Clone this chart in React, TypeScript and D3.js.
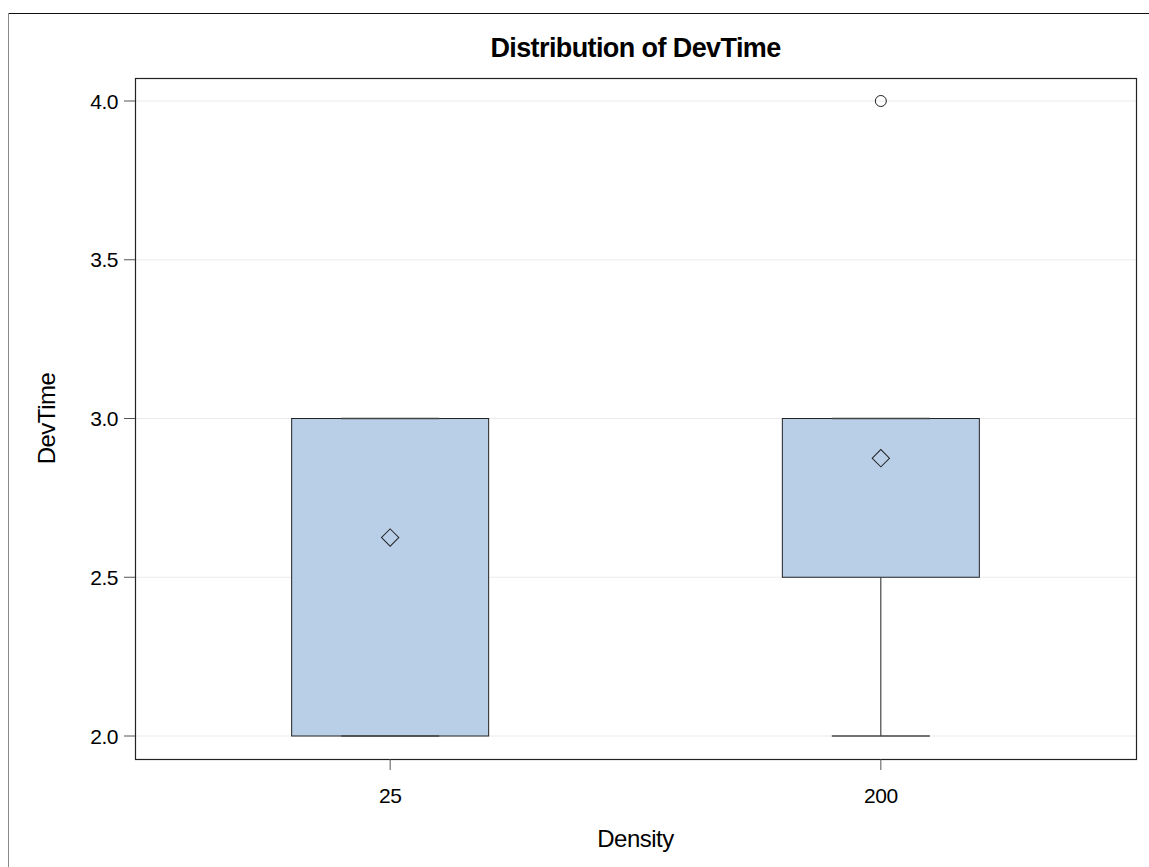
import React, { useEffect, useRef } from 'react';
import * as d3 from 'd3';

const categories = ['25', '200'];
const q1 = [2.0, 2.5];
const medians = [3.0, 3.0];
const q3 = [3.0, 3.0];
const whiskerLow = [2.0, 2.0];
const whiskerHigh = [3.0, 3.0];
const means = [2.625, 2.875];
const outliers = [[], [4.0]];
const yTicks = [2.0, 2.5, 3.0, 3.5, 4.0];

const App = () => {
  const chartRef = useRef<HTMLDivElement>(null);
  const width = 1149;
  const height = 867;

  useEffect(() => {
    d3.select(chartRef.current).select('svg').remove();

    const left = 135, right = 1136, top = 78, bottom = 759;
    const font = 'Liberation Sans, Arial, sans-serif';

    const svg = d3
      .select(chartRef.current)
      .append('svg')
      .attr('width', width)
      .attr('height', height)
      .style('position', 'absolute')
      .style('left', '0px')
      .style('top', '0px')
      .style('background', '#fff');

    // outer frame (cropped)
    svg.append('line').attr('x1', 8).attr('x2', width).attr('y1', 13.5).attr('y2', 13.5)
      .attr('stroke', '#111').attr('stroke-width', 1.2);
    svg.append('line').attr('x1', 8.5).attr('x2', 8.5).attr('y1', 13).attr('y2', height)
      .attr('stroke', '#888').attr('stroke-width', 1);

    const x = d3.scalePoint().domain(categories).range([left, right]).padding(0.52);
    const y = d3.scaleLinear().domain([2, 4]).range([736, 101]);

    // gridlines
    svg.append('g').selectAll('line').data(yTicks).enter().append('line')
      .attr('x1', left).attr('x2', right)
      .attr('y1', d => y(d)).attr('y2', d => y(d))
      .attr('stroke', '#ebebeb').attr('stroke-width', 1);

    const boxW = 197;
    const capW = 98;
    const boxes = svg.append('g').selectAll('g').data(categories).enter().append('g');

    boxes.append('line')
      .attr('x1', d => x(d)!).attr('x2', d => x(d)!)
      .attr('y1', (d, i) => y(whiskerLow[i])).attr('y2', (d, i) => y(q1[i]))
      .attr('stroke', '#222').attr('stroke-width', 1);
    boxes.append('line')
      .attr('x1', d => x(d)!).attr('x2', d => x(d)!)
      .attr('y1', (d, i) => y(whiskerHigh[i])).attr('y2', (d, i) => y(q3[i]))
      .attr('stroke', '#222').attr('stroke-width', 1);

    boxes.append('rect')
      .attr('x', d => x(d)! - boxW / 2)
      .attr('width', boxW)
      .attr('y', (d, i) => y(q3[i]))
      .attr('height', (d, i) => y(q1[i]) - y(q3[i]))
      .attr('fill', '#b9cfe7')
      .attr('stroke', '#222')
      .attr('stroke-width', 1);

    boxes.append('line')
      .attr('x1', d => x(d)! - boxW / 2).attr('x2', d => x(d)! + boxW / 2)
      .attr('y1', (d, i) => y(medians[i])).attr('y2', (d, i) => y(medians[i]))
      .attr('stroke', '#222').attr('stroke-width', 1);

    // whisker caps
    [whiskerLow, whiskerHigh].forEach(w => {
      boxes.append('line')
        .attr('x1', d => x(d)! - capW / 2).attr('x2', d => x(d)! + capW / 2)
        .attr('y1', (d, i) => y(w[i])).attr('y2', (d, i) => y(w[i]))
        .attr('stroke', '#444').attr('stroke-width', 1.5);
    });

    // mean diamonds
    const diamond = d3.symbol().type(d3.symbolSquare).size(150);
    boxes.append('path')
      .attr('d', diamond())
      .attr('transform', (d, i) => `translate(${x(d)},${y(means[i])}) rotate(45)`)
      .attr('fill', 'none')
      .attr('stroke', '#222')
      .attr('stroke-width', 1);

    // outliers
    boxes.each(function (d, i) {
      d3.select(this).selectAll('circle').data(outliers[i]).enter().append('circle')
        .attr('cx', x(d)!)
        .attr('cy', v => y(v))
        .attr('r', 5.5)
        .attr('fill', 'none')
        .attr('stroke', '#222')
        .attr('stroke-width', 1);
    });

    // plot frame
    svg.append('rect')
      .attr('x', left + 0.5).attr('y', top + 0.5)
      .attr('width', right - left).attr('height', bottom - top)
      .attr('fill', 'none').attr('stroke', '#222').attr('stroke-width', 1.2);

    // y axis ticks
    const yAxis = svg.append('g').selectAll('g').data(yTicks).enter().append('g');
    yAxis.append('line')
      .attr('x1', 124).attr('x2', left)
      .attr('y1', d => y(d)).attr('y2', d => y(d))
      .attr('stroke', '#555');
    yAxis.append('text')
      .attr('x', 118).attr('y', d => y(d))
      .attr('text-anchor', 'end').attr('dominant-baseline', 'central')
      .attr('font-family', font).attr('font-size', '21px').attr('letter-spacing', '-0.5px')
      .attr('fill', '#000')
      .text(d => d.toFixed(1));

    // x axis ticks
    const xAxis = svg.append('g').selectAll('g').data(categories).enter().append('g');
    xAxis.append('line')
      .attr('x1', d => x(d)!).attr('x2', d => x(d)!)
      .attr('y1', bottom).attr('y2', 770)
      .attr('stroke', '#555');
    xAxis.append('text')
      .attr('x', d => x(d)!).attr('y', 795)
      .attr('text-anchor', 'middle').attr('dominant-baseline', 'central')
      .attr('font-family', font).attr('font-size', '21px').attr('letter-spacing', '-0.5px')
      .attr('fill', '#000')
      .text(d => d);

    svg.append('text')
      .attr('x', (left + right) / 2).attr('y', 838)
      .attr('text-anchor', 'middle').attr('dominant-baseline', 'central')
      .attr('font-family', font).attr('font-size', '24px').attr('letter-spacing', '-0.5px')
      .text('Density');

    svg.append('text')
      .attr('transform', `translate(46,${(top + bottom) / 2}) rotate(-90)`)
      .attr('text-anchor', 'middle').attr('dominant-baseline', 'central')
      .attr('font-family', font).attr('font-size', '24px').attr('letter-spacing', '-0.5px')
      .text('DevTime');

    svg.append('text')
      .attr('x', (left + right) / 2).attr('y', 57)
      .attr('text-anchor', 'middle')
      .attr('font-family', font).attr('font-size', '27px').attr('font-weight', 'bold')
      .attr('letter-spacing', '-0.6px')
      .text('Distribution of DevTime');
  }, []);

  return <div ref={chartRef}></div>;
};

export default App;
